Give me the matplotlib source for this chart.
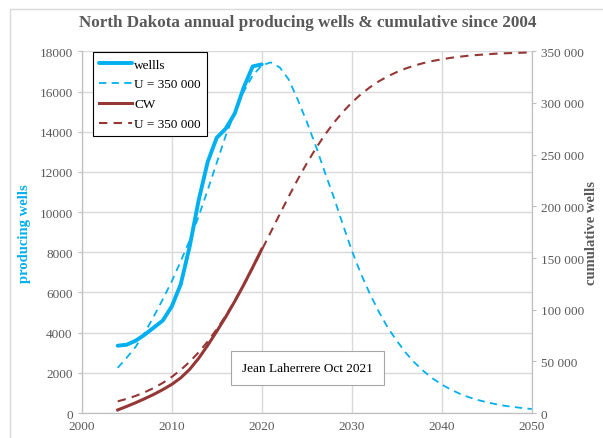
import matplotlib.pyplot as plt
from matplotlib.patches import Rectangle
from matplotlib.ticker import FuncFormatter, MultipleLocator

plt.rcParams['font.family'] = ['Liberation Serif', 'DejaVu Serif']

GREY = '#595959'
BLUE = '#00B0F0'
RED = '#953735'
GRID = '#D9D9D9'

# observed annual producing wells and cumulative
years = list(range(2004, 2021))
wells = [3350, 3400, 3600, 3900, 4250, 4600, 5300, 6400, 8300, 10600,
         12500, 13700, 14150, 14900, 16200, 17250, 17350]
cw = [3000, 6400, 10000, 13900, 18000, 22600, 27700, 34000, 42300, 53000,
      65500, 79000, 93000, 108000, 124000, 141000, 158500]

# model with ultimate U = 350 000 wells
model_years = list(range(2004, 2051))
model_wells = [2250, 2750, 3300, 4000, 4800, 5650, 6550, 7550, 8600, 9800,
               11100, 12450, 13800, 14950, 16000, 16800, 17300, 17450, 17200, 16600,
               15600, 14500, 13300, 12000, 10750, 9400, 8100, 6950, 5950, 5050,
               4250, 3600, 3000, 2500, 2080, 1720, 1420, 1170, 960, 790,
               650, 540, 440, 360, 300, 245, 200]
model_cw = [11300, 13700, 16600, 20100, 24200, 29100, 34900, 41700, 49600, 58800,
            69200, 81000, 94100, 108500, 124000, 140500, 157600, 175000, 192400, 209500,
            226000, 241500, 255900, 269000, 280800, 291200, 300400, 308300, 315100, 320900,
            325800, 329900, 333400, 336300, 338700, 340700, 342300, 343700, 344800, 345800,
            346500, 347100, 347700, 348100, 348400, 348700, 348900]

fig = plt.figure(figsize=(6.03, 4.39), dpi=100)
fig.patches.append(Rectangle((10 / 603, -0.05), 1.0, 1.05 - 10 / 439,
                             transform=fig.transFigure, fill=False,
                             edgecolor=GRID, linewidth=1))
ax = fig.add_axes([0.1355, 0.0569, 0.7463, 0.8239])
ax2 = ax.twinx()

l1, = ax.plot(years, wells, color=BLUE, lw=2.8, solid_capstyle='round',
              label='wellls')
l2, = ax.plot(model_years, model_wells, color=BLUE, lw=1.3,
              dashes=(4, 3), label='U = 350 000')
l3, = ax2.plot(years, cw, color=RED, lw=2.2, label='CW')
l4, = ax2.plot(model_years, model_cw, color=RED, lw=1.5,
               dashes=(4, 3), label='U = 350 000')

ax.set_xlim(2000, 2050)
ax.set_ylim(0, 18000)
ax2.set_ylim(0, 350000)
ax.xaxis.set_major_locator(MultipleLocator(10))
ax.yaxis.set_major_locator(MultipleLocator(2000))
ax2.yaxis.set_major_locator(MultipleLocator(50000))
ax2.yaxis.set_major_formatter(FuncFormatter(lambda v, p: f'{int(v):,}'.replace(',', ' ')))

ax.grid(True, color=GRID, lw=1)
ax.set_axisbelow(True)
for a in (ax, ax2):
    for s in a.spines.values():
        s.set_color('#BFBFBF')
    a.spines['top'].set_visible(False)
    a.tick_params(colors=GREY, labelsize=9.5, length=3, width=0.8)
ax.spines['left'].set_color(GRID)
ax.tick_params(axis='x', length=0, pad=5)
ax.tick_params(axis='y', colors='#BFBFBF', labelcolor=GREY)
ax2.tick_params(axis='y', colors='#BFBFBF', labelcolor=GREY)

ax.set_ylabel('producing wells', color=BLUE, fontweight='bold', fontsize=10.5,
              labelpad=6)
ax2.set_ylabel('cumulative wells', color=GREY, fontweight='bold', fontsize=10.5,
               labelpad=1)
fig.text(0.51, 0.948, 'North Dakota annual producing wells & cumulative since 2004',
         ha='center', va='center', fontsize=12.3, fontweight='bold', color=GREY)

leg = ax2.legend(handles=[l1, l2, l3, l4], loc='upper left',
                 bbox_to_anchor=(0.026, 0.997), borderaxespad=0,
                 fontsize=9.5, handlelength=2.5, handletextpad=0.15,
                 labelspacing=0.58, borderpad=0.45, fancybox=False,
                 framealpha=1, edgecolor='black')
leg.get_frame().set_linewidth(0.8)

ax.text(2025.1, 2240, 'Jean Laherrere Oct 2021', ha='center', va='center',
        fontsize=9.5, color='black', zorder=5,
        bbox=dict(boxstyle='square,pad=0.85', facecolor='white',
                  edgecolor='#A6A6A6', linewidth=0.8))

fig.savefig('out.png', dpi=100)
